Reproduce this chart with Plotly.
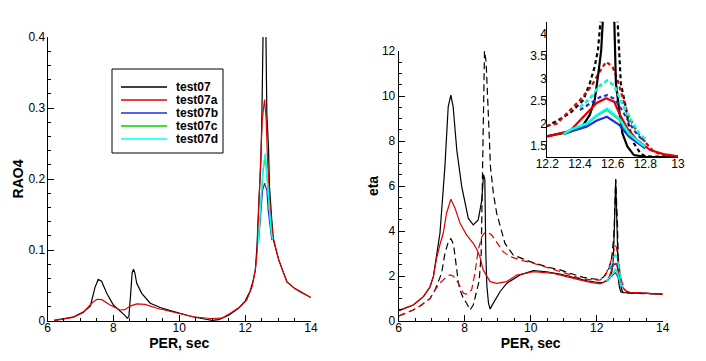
import plotly.graph_objects as go

# ---------------- Left chart: RAO4 ----------------
rao_names = ["test07", "test07a", "test07b", "test07c", "test07d"]
rao_colors = ["#000000", "#e00000", "#2030e0", "#00d000", "#00ffff"]

rao_x_test07 = [6.2, 6.5, 6.8, 7.1, 7.3, 7.44, 7.54, 7.64, 7.8, 8.0, 8.2, 8.35, 8.42, 8.47,
                8.52, 8.57, 8.61, 8.65, 8.71, 8.86, 9.12, 9.42, 9.7, 10.0, 10.4, 10.8, 11.0,
                11.2, 11.5, 11.8, 12.0, 12.15, 12.25, 12.31, 12.36, 12.41, 12.48, 12.51, 12.55,
                12.59, 12.62, 12.66, 12.71, 12.74, 12.81, 12.86, 13.02, 13.27, 13.5, 13.7, 14.0]
rao_y_test07 = [0.001, 0.003, 0.006, 0.013, 0.021, 0.047, 0.0585, 0.056, 0.039, 0.0225, 0.0148,
                0.008, 0.004, 0.006, 0.035, 0.068, 0.073, 0.068, 0.053, 0.039, 0.025, 0.019,
                0.015, 0.011, 0.006, 0.0025, 0.001, 0.002, 0.008, 0.018, 0.028, 0.042, 0.058,
                0.072, 0.105, 0.161, 0.227, 0.292, 0.45, 0.55, 0.45, 0.29, 0.245, 0.189, 0.142,
                0.114, 0.086, 0.055, 0.046, 0.041, 0.033]

rao_x_test07a = [6.2, 6.5, 6.78, 7.09, 7.34, 7.5, 7.65, 7.9, 8.2, 8.35, 8.51, 8.71, 8.96, 9.32,
                 9.72, 10.03, 10.43, 10.94, 11.3, 11.55, 11.85, 12.05, 12.21, 12.31, 12.36, 12.41,
                 12.46, 12.52, 12.59, 12.64, 12.68, 12.76, 12.84, 12.92, 13.02, 13.27, 13.5,
                 13.67, 14.0]
rao_y_test07a = [0.0005, 0.003, 0.005, 0.012, 0.025, 0.0306, 0.030, 0.0225, 0.0155, 0.016,
                 0.021, 0.024, 0.0235, 0.018, 0.014, 0.010, 0.006, 0.0035, 0.004, 0.011, 0.020,
                 0.0296, 0.048, 0.072, 0.095, 0.155, 0.213, 0.283, 0.312, 0.283, 0.227, 0.161,
                 0.12, 0.105, 0.086, 0.055, 0.046, 0.041, 0.033]

rao_x_test07b = [12.41, 12.44, 12.48, 12.53, 12.59, 12.66, 12.70, 12.76, 12.81]
rao_y_test07b = [0.114, 0.133, 0.161, 0.184, 0.194, 0.184, 0.156, 0.128, 0.114]

rao_x_test07c = [12.40, 12.44, 12.48, 12.54, 12.61, 12.66, 12.72, 12.79, 12.83]
rao_y_test07c = [0.11, 0.138, 0.168, 0.21, 0.233, 0.202, 0.159, 0.127, 0.114]

rao_x_test07d = [12.40, 12.44, 12.48, 12.54, 12.61, 12.66, 12.72, 12.79, 12.83]
rao_y_test07d = [0.11, 0.14, 0.170, 0.213, 0.236, 0.205, 0.161, 0.128, 0.115]

# ---------------- Right chart: eta ----------------
eta_x_black_solid = [6.0, 6.44, 6.75, 6.95, 7.05, 7.15, 7.25, 7.4, 7.5, 7.58, 7.65, 7.76, 7.91,
                     8.11, 8.26, 8.41, 8.52, 8.57, 8.61, 8.64, 8.67, 8.72, 8.77, 8.85, 8.92, 9.07,
                     9.27, 9.52, 9.68, 10.08, 10.48, 10.89, 11.29, 11.7, 12.1, 12.2, 12.34, 12.42,
                     12.46, 12.49, 12.51, 12.53, 12.54, 12.575, 12.61, 12.62, 12.64, 12.66, 12.69,
                     12.73, 12.8, 12.91, 13.3, 13.7, 14.0]
eta_y_black_solid = [0.46, 0.71, 1.08, 1.52, 1.97, 2.86, 3.9, 6.86, 9.52, 10.04, 9.52, 7.6, 5.97,
                     4.56, 4.27, 4.49, 5.38, 6.5, 6.3, 3.0, 1.6, 0.8, 0.53, 0.75, 0.93, 1.3, 1.67,
                     1.89, 2.05, 2.24, 2.19, 2.09, 1.94, 1.79, 1.70, 1.72, 1.82, 1.97, 2.19, 2.52,
                     3.04, 3.63, 4.3, 6.3, 4.3, 2.89, 2.3, 1.78, 1.49, 1.30, 1.26, 1.25, 1.24, 1.22,
                     1.19]

eta_x_red_solid = [6.0, 6.44, 6.75, 6.95, 7.05, 7.15, 7.25, 7.35, 7.45, 7.58, 7.71, 7.86, 8.06,
                   8.26, 8.36, 8.46, 8.56, 8.67, 8.77, 8.97, 9.27, 9.58, 10.08, 10.69, 11.29,
                   11.7, 12.1, 12.2, 12.34, 12.44, 12.50, 12.56, 12.61, 12.64, 12.69, 12.75, 12.83,
                   12.91, 13.0, 13.3, 13.7, 14.0]
eta_y_red_solid = [0.46, 0.71, 1.08, 1.52, 1.97, 2.8, 3.4, 3.9, 4.79, 5.41, 5.0, 4.34, 3.82,
                   3.45, 3.2, 2.86, 2.27, 1.97, 1.75, 1.67, 1.75, 2.04, 2.19, 2.12, 1.88, 1.75,
                   1.65, 1.71, 1.84, 2.23, 2.45, 2.56, 2.48, 2.23, 1.89, 1.63, 1.41, 1.32, 1.27,
                   1.25, 1.22, 1.19]

eta_x_black_dash = [6.0, 6.44, 6.65, 6.95, 7.1, 7.3, 7.4, 7.5, 7.58, 7.66, 7.71, 7.81, 7.86,
                    7.96, 8.06, 8.16, 8.26, 8.36, 8.44, 8.5, 8.53, 8.56, 8.6, 8.65, 8.70, 8.75,
                    8.78, 8.87, 8.97, 9.12, 9.22, 9.47, 9.98, 10.48, 10.89, 11.19, 11.59, 12.0,
                    12.2, 12.34, 12.42, 12.46, 12.49, 12.51, 12.53, 12.575, 12.63, 12.64, 12.65,
                    12.68, 12.70, 12.73, 12.77, 12.8, 12.9, 13.3, 13.7, 14.0]
eta_y_black_dash = [0.22, 0.49, 0.67, 1.0, 1.38, 2.12, 3.0, 3.5, 3.67, 3.4, 2.86, 1.68, 1.38,
                    1.0, 0.79, 0.49, 0.71, 1.38, 1.8, 3.0, 6.0, 10.0, 12.0, 11.5, 10.0, 8.0,
                    6.86, 5.67, 4.78, 3.9, 3.45, 2.93, 2.64, 2.41, 2.27, 2.12, 1.94, 1.85, 1.94,
                    2.23, 2.52, 2.89, 3.26, 3.63, 4.2, 6.3, 4.3, 3.41, 2.89, 2.37, 1.93, 1.56,
                    1.34, 1.27, 1.25, 1.24, 1.22, 1.19]

eta_x_red_dash = [6.0, 6.44, 6.65, 6.95, 7.1, 7.25, 7.45, 7.55, 7.65, 7.81, 7.96, 8.06, 8.21,
                  8.31, 8.41, 8.52, 8.6, 8.67, 8.82, 9.07, 9.17, 9.38, 9.68, 10.03, 10.48, 11.0,
                  11.59, 12.1, 12.2, 12.26, 12.34, 12.40, 12.47, 12.52, 12.56, 12.6, 12.63,
                  12.66, 12.69, 12.73, 12.77, 12.85, 12.91, 13.0, 13.3, 13.7, 14.0]
eta_y_red_dash = [0.22, 0.49, 0.67, 1.0, 1.38, 1.68, 1.97, 2.05, 2.0, 1.68, 1.23, 1.2, 1.38,
                  2.12, 3.16, 3.75, 3.9, 3.97, 3.82, 3.3, 3.07, 2.86, 2.71, 2.59, 2.4, 2.15,
                  1.85, 1.82, 1.95, 2.0, 2.3, 2.52, 2.83, 3.15, 3.37, 3.26, 2.96, 2.59, 2.23,
                  1.93, 1.71, 1.38, 1.3, 1.27, 1.25, 1.22, 1.19]

eta_x_col_solid = [12.3, 12.34, 12.44, 12.50, 12.565, 12.64, 12.70, 12.77, 12.8]
eta_y_blue_solid = [1.76, 1.82, 1.93, 2.06, 2.15, 1.97, 1.71, 1.52, 1.45]
eta_y_green_solid = [1.76, 1.85, 1.99, 2.17, 2.31, 2.09, 1.76, 1.55, 1.48]
eta_y_cyan_solid = [1.77, 1.86, 2.0, 2.18, 2.33, 2.11, 1.78, 1.56, 1.49]

eta_x_col_dash = [12.40, 12.46, 12.52, 12.565, 12.61, 12.64, 12.68, 12.73, 12.77, 12.8]
eta_y_blue_dash = [2.3, 2.45, 2.58, 2.63, 2.55, 2.4, 2.15, 1.85, 1.68, 1.6]
eta_y_green_dash = [2.36, 2.55, 2.83, 2.95, 2.84, 2.58, 2.28, 1.95, 1.73, 1.66]
eta_y_cyan_dash = [2.37, 2.56, 2.85, 2.96, 2.85, 2.59, 2.3, 1.97, 1.74, 1.67]

FONT = "Liberation Sans, Arial, sans-serif"
W, H = 706, 361

fig = go.Figure()

# left chart traces
rao_series = [(rao_x_test07, rao_y_test07), (rao_x_test07a, rao_y_test07a),
              (rao_x_test07b, rao_y_test07b), (rao_x_test07c, rao_y_test07c),
              (rao_x_test07d, rao_y_test07d)]
for name, color, (xs, ys) in zip(rao_names, rao_colors, rao_series):
    fig.add_trace(go.Scatter(x=xs, y=ys, mode="lines", name=name,
                             line=dict(color=color, width=1.2),
                             xaxis="x", yaxis="y", showlegend=False))

# right chart traces (main + inset)
eta_series = [
    (eta_x_black_dash, eta_y_black_dash, "#000000", "dash"),
    (eta_x_red_dash, eta_y_red_dash, "#e00000", "dash"),
    (eta_x_black_solid, eta_y_black_solid, "#000000", "solid"),
    (eta_x_red_solid, eta_y_red_solid, "#e00000", "solid"),
    (eta_x_col_dash, eta_y_blue_dash, "#2030e0", "dash"),
    (eta_x_col_dash, eta_y_green_dash, "#00d000", "dash"),
    (eta_x_col_dash, eta_y_cyan_dash, "#00ffff", "dash"),
    (eta_x_col_solid, eta_y_blue_solid, "#2030e0", "solid"),
    (eta_x_col_solid, eta_y_green_solid, "#00d000", "solid"),
    (eta_x_col_solid, eta_y_cyan_solid, "#00ffff", "solid"),
]
for xs, ys, color, style in eta_series:
    fig.add_trace(go.Scatter(x=xs, y=ys, mode="lines", showlegend=False,
                             line=dict(color=color, width=1.2,
                                       dash="7px,4px" if style == "dash" else "solid"),
                             xaxis="x2", yaxis="y2"))
for xs, ys, color, style in eta_series:
    fig.add_trace(go.Scatter(x=xs, y=ys, mode="lines", showlegend=False,
                             line=dict(color=color, width=2.2,
                                       dash="4px,3px" if style == "dash" else "solid"),
                             xaxis="x3", yaxis="y3"))

tickfont = dict(family=FONT, size=12, color="black")
titlefont = dict(family=FONT, size=14, color="black", weight="bold")

common = dict(showline=True, linecolor="black", linewidth=1, showgrid=False,
              zeroline=False, ticks="inside", ticklen=6, tickwidth=1, tickcolor="black",
              tickfont=tickfont, automargin=False)


def dx(a, b):
    return [a / W, b / W]


def dy(top, bottom):
    return [(H - bottom) / H, (H - top) / H]


# Legend box (drawn in paper coordinates, text kept as real text)
LEG_L, LEG_R, LEG_T, LEG_B = 112, 223, 69, 153
leg_rows = [87, 100, 113, 126, 139]
shapes = [dict(type="rect", xref="paper", yref="paper",
               x0=LEG_L / W, x1=LEG_R / W, y0=(H - LEG_B) / H, y1=(H - LEG_T) / H,
               line=dict(color="black", width=1), fillcolor="white", layer="above")]
annotations = []
for name, color, ry in zip(rao_names, rao_colors, leg_rows):
    shapes.append(dict(type="line", xref="paper", yref="paper",
                       x0=121 / W, x1=167 / W, y0=(H - ry) / H, y1=(H - ry) / H,
                       line=dict(color=color, width=1.5), layer="above"))
    annotations.append(dict(text=name, xref="paper", yref="paper", x=174 / W,
                            y=(H - ry) / H, xanchor="left", yanchor="middle",
                            showarrow=False,
                            font=dict(family=FONT, size=12, color="black", weight="bold")))

fig.update_layout(
    width=W, height=H,
    margin=dict(l=0, r=0, t=0, b=0),
    paper_bgcolor="white", plot_bgcolor="white",
    font=dict(family=FONT, color="black"),
    showlegend=False,
    hovermode=False,
    shapes=shapes, annotations=annotations,
    xaxis=dict(domain=dx(47.5, 311), range=[6, 14], dtick=2, anchor="y",
               ticklabelstandoff=-4,
               minor=dict(dtick=0.5, ticks="inside", ticklen=3, tickcolor="black"),
               title=dict(text="PER, sec", font=titlefont, standoff=1), **common),
    yaxis=dict(domain=dy(37, 321), range=[0, 0.4], dtick=0.1, anchor="x",
               ticklabelstandoff=-1,
               minor=dict(dtick=0.02, ticks="inside", ticklen=3, tickcolor="black"),
               title=dict(text="RAO4", font=titlefont, standoff=1), **common),
    xaxis2=dict(domain=dx(398.7, 662.7), range=[6, 14], dtick=2, anchor="y2",
                ticklabelstandoff=-4,
                minor=dict(dtick=0.5, ticks="inside", ticklen=3, tickcolor="black"),
                title=dict(text="PER, sec", font=titlefont, standoff=1), **common),
    yaxis2=dict(domain=dy(51, 321), range=[0, 12], dtick=2, anchor="x2",
                ticklabelstandoff=0,
                minor=dict(dtick=0.5, ticks="inside", ticklen=3, tickcolor="black"),
                title=dict(text="eta", font=titlefont, standoff=0), **common),
    xaxis3=dict(domain=dx(547.3, 678), range=[12.2, 13], dtick=0.2, anchor="y3",
                showline=True, linecolor="black", linewidth=1, showgrid=False, zeroline=False,
                ticks="", tickfont=tickfont, automargin=False, ticklabelstandoff=-5),
    yaxis3=dict(domain=dy(21.7, 157.3), range=[1.25, 4.26], dtick=0.5, anchor="x3",
                showline=True, linecolor="black", linewidth=1, showgrid=False, zeroline=False,
                ticks="", tickfont=tickfont, automargin=False, ticklabelstandoff=-3),
)

fig.write_html("out.html", config={"displayModeBar": False, "staticPlot": True},
               post_script="document.body.style.margin='0px';document.body.style.padding='0px';")
